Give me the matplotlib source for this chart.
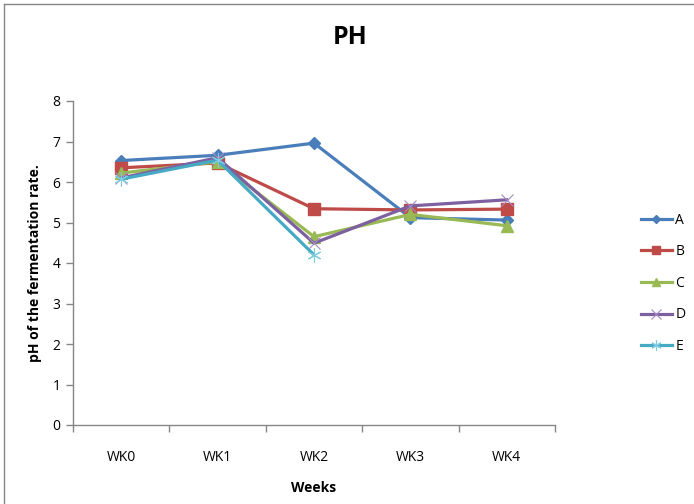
import numpy as np
import matplotlib
matplotlib.use("Agg")
import matplotlib.pyplot as plt
from matplotlib.lines import Line2D

plt.rcParams['font.family'] = ['Open Sans', 'DejaVu Sans']

###### DATA ##########
weeks = ['WK0', 'WK1', 'WK2', 'WK3', 'WK4']
ph_a = [6.53, 6.66, 6.96, 5.12, 5.06]
ph_b = [6.35, 6.47, 5.34, 5.31, 5.33]
ph_c = [6.22, 6.50, 4.65, 5.20, 4.92]
ph_d = [6.10, 6.60, 4.49, 5.41, 5.56]
ph_e = [6.07, 6.54, 4.20]
series_names = ['A', 'B', 'C', 'D', 'E']
######################

grey = '#868686'
styles = [
    dict(color='#4A7EBB', marker='D', ms=6, mfc='#4A7EBB', mec='#4A7EBB'),
    dict(color='#BE4B48', marker='s', ms=8, mfc='#BE4B48', mec='#BE4B48'),
    dict(color='#98B954', marker='^', ms=8, mfc='#98B954', mec='#98B954'),
    dict(color='#7D60A0', marker='x', ms=9, mew=0.8, mec='#A48CC4'),
    dict(color='#46AAC5', marker=(6, 2, 0), ms=10, mew=0.8, mec='#7FCBE0'),
]

fig = plt.figure(figsize=(6.94, 5.04), dpi=100)
ax = fig.add_axes([73/694, 1 - 425/504, (555 - 73)/694, (425 - 101)/504])

x = np.arange(len(weeks))
all_series = [ph_a, ph_b, ph_c, ph_d, ph_e]
for name, vals, st in zip(series_names, all_series, styles):
    ax.plot(x[:len(vals)], vals, lw=2.3, label=name, **st)

ax.set_xlim(-0.5, len(weeks) - 0.5)
ax.set_ylim(0, 8)
ax.set_yticks(range(0, 9))
ax.set_xticks(x)
ax.set_xticklabels(weeks)
ax.set_xticks(np.arange(-0.5, len(weeks)), minor=True)
ax.tick_params(axis='x', which='major', length=0, pad=18, labelsize=10)
ax.tick_params(axis='x', which='minor', length=5, color=grey, width=1)
ax.tick_params(axis='y', length=5, color=grey, width=1, labelsize=10, pad=4)

for s in ['top', 'right']:
    ax.spines[s].set_visible(False)
for s in ['left', 'bottom']:
    ax.spines[s].set_color(grey)
    ax.spines[s].set_linewidth(1)

fig.text(350/694, 1 - 38/504, 'PH', ha='center', va='center',
         fontsize=18, fontweight='bold')
fig.text(35/694, 1 - 263/504, 'pH of the fermentation rate.', ha='center',
         va='center', rotation=90, fontsize=10, fontweight='bold')
fig.text(314/694, 1 - 488/504, 'Weeks', ha='center', va='center',
         fontsize=10, fontweight='bold')

leg = ax.legend(loc='upper left', bbox_to_anchor=(628/694, 1 - 200/504),
                bbox_transform=fig.transFigure, frameon=False, fontsize=10,
                handlelength=2.3, handletextpad=0.2, labelspacing=1.2,
                markerscale=0.75)

# outer chart frame
fig.add_artist(Line2D([3.5/694, 3.5/694], [0, 1 - 3.5/504], color=grey, lw=1,
                      transform=fig.transFigure))
fig.add_artist(Line2D([3.5/694, 1], [1 - 3.5/504, 1 - 3.5/504], color=grey, lw=1,
                      transform=fig.transFigure))

fig.savefig('out.png', dpi=100)
